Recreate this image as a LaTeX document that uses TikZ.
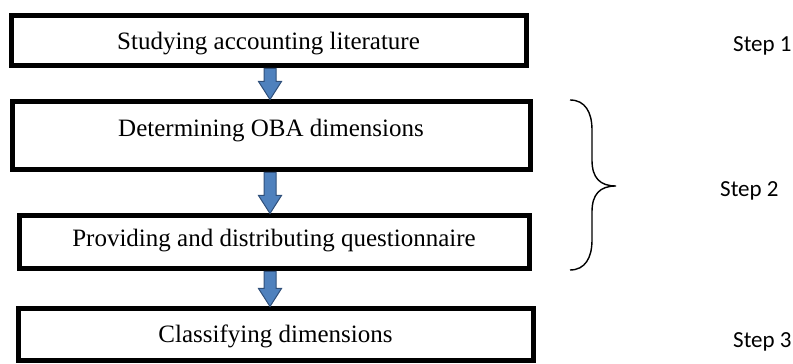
\documentclass[tikz,border=0pt]{standalone}
\usepackage{fontspec}
\setmainfont{Liberation Serif}
\newfontfamily\stepfont{Carlito}
\usetikzlibrary{calc}
\definecolor{arrfill}{HTML}{4F81BD}
\definecolor{arrdraw}{HTML}{2F4F7A}
\begin{document}
\begin{tikzpicture}[x=1pt,y=1pt,
  stepbox/.style={draw=black,line width=5pt,inner sep=0pt,rectangle},
  boxtext/.style={anchor=base,inner sep=0pt,font=\fontsize{25}{28}\selectfont},
  steplabel/.style={anchor=base west,inner sep=0pt,font=\stepfont\fontsize{23}{26}\selectfont},
  blockarr/.style={fill=arrfill,draw=arrdraw,line width=1pt,line join=miter},
  bracestyle/.style={draw=black,line width=1.4pt}]
\useasboundingbox (0,0) rectangle (793,364);
% boxes
\node[stepbox,minimum width=515pt,minimum height=50pt] (b1) at (268.5,323) {};
\node[stepbox,minimum width=518pt,minimum height=68pt] (b2) at (271,228) {};
\node[stepbox,minimum width=510pt,minimum height=53pt] (b3) at (274,121.5) {};
\node[stepbox,minimum width=515pt,minimum height=52pt] (b4) at (275.5,29) {};
% texts
\node[boxtext] (t1) at (268.5,314) {Studying accounting literature};
\node[boxtext] (t2) at (271,227) {Determining OBA dimensions};
\node[boxtext] (t3) at (274,117) {Providing and distributing questionnaire};
\node[boxtext] (t4) at (275.5,21) {Classifying dimensions};
% arrows axis
\coordinate (ax) at (270,0);
\newcommand\blockarrow[2]{%
  \draw[blockarr] ([xshift=-6pt]ax |- #1.south) --
    ([xshift=-6pt,yshift=18pt]ax |- #2.north) --
    ([xshift=-11.5pt,yshift=18pt]ax |- #2.north) --
    (ax |- #2.north) --
    ([xshift=11.5pt,yshift=18pt]ax |- #2.north) --
    ([xshift=6pt,yshift=18pt]ax |- #2.north) --
    ([xshift=6pt]ax |- #1.south) -- cycle;}
\blockarrow{b1}{b2}
\blockarrow{b2}{b3}
\blockarrow{b3}{b4}
% brace
\coordinate (brtop) at (570,264);
\coordinate (brtip) at (616,178);
\coordinate (brbot) at (570,94);
\draw[bracestyle] (brtop) .. controls (585,264) and (592,252) .. (592,234) -- (592,204)
  .. controls (592,186) and (600,178) .. (brtip)
  .. controls (600,178) and (592,170) .. (592,152) -- (592,124)
  .. controls (592,106) and (585,94) .. (brbot);
% step labels
\node[steplabel] (s1) at (733,312) {Step 1};
\node[steplabel] (s2) at (720,167) {Step 2};
\node[steplabel] (s3) at (733,16) {Step 3};
\end{tikzpicture}
\end{document}
